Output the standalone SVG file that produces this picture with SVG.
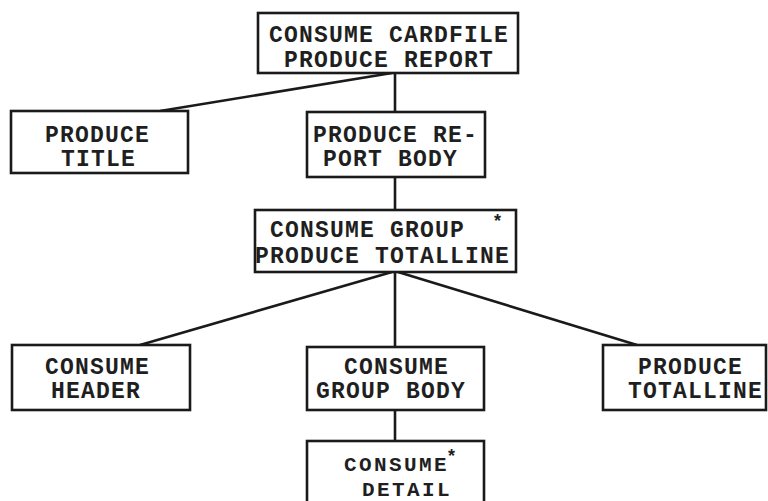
<svg xmlns="http://www.w3.org/2000/svg" width="768" height="501" viewBox="0 0 768 501">
<style>
.box{fill:#fff;stroke:#1a1a1a;stroke-width:2.6}
.lbl{font-family:"Liberation Mono","Courier New",monospace;font-size:23px;font-weight:bold;letter-spacing:1.2px;fill:#1f1f1f}
.sm{font-size:21px;letter-spacing:2.4px}
.star{font-family:"Liberation Sans",Arial,sans-serif;font-size:18px;font-weight:bold;fill:#1f1f1f}
.con{stroke:#1a1a1a;stroke-width:2.6;fill:none}
</style>
<rect width="768" height="501" fill="#fff"/>
<g id="connectors">
<line class="con" x1="392" y1="73" x2="160" y2="111"/>
<line class="con" x1="395" y1="73" x2="395" y2="112"/>
<line class="con" x1="395" y1="177" x2="395" y2="210"/>
<line class="con" x1="392" y1="272" x2="140" y2="345"/>
<line class="con" x1="395" y1="272" x2="395" y2="347"/>
<line class="con" x1="398" y1="272" x2="637" y2="345"/>
<line class="con" x1="395" y1="410" x2="395" y2="441"/>
</g>
<g id="n-top">
<rect class="box" x="258" y="13" width="260" height="60"/>
<text class="lbl" x="269" y="42">CONSUME CARDFILE</text>
<text class="lbl" x="284" y="67">PRODUCE REPORT</text>
</g>
<g id="n-title">
<rect class="box" x="11" y="111" width="177" height="62"/>
<text class="lbl" x="45" y="142">PRODUCE</text>
<text class="lbl" x="61" y="166">TITLE</text>
</g>
<g id="n-reportbody">
<rect class="box" x="307" y="112" width="178" height="65"/>
<text class="lbl" x="313" y="142">PRODUCE RE-</text>
<text class="lbl" x="323" y="166">PORT BODY</text>
</g>
<g id="n-group">
<rect class="box" x="255" y="210" width="261" height="62"/>
<text class="lbl" x="270" y="237">CONSUME GROUP</text>
<text class="lbl" x="255" y="263">PRODUCE TOTALLINE</text>
<text class="star" x="494" y="227">*</text>
</g>
<g id="n-header">
<rect class="box" x="12" y="345" width="178" height="65"/>
<text class="lbl" x="45" y="374">CONSUME</text>
<text class="lbl" x="51" y="398">HEADER</text>
</g>
<g id="n-groupbody">
<rect class="box" x="307" y="347" width="177" height="63"/>
<text class="lbl" x="344" y="374">CONSUME</text>
<text class="lbl" x="316" y="398">GROUP BODY</text>
</g>
<g id="n-totalline">
<rect class="box" x="603" y="345" width="163" height="65"/>
<text class="lbl" x="638" y="374">PRODUCE</text>
<text class="lbl" x="628" y="398">TOTALLINE</text>
</g>
<g id="n-detail">
<rect class="box" x="307" y="441" width="177" height="75"/>
<text class="lbl sm" x="344" y="471">CONSUME</text>
<text class="lbl sm" x="362" y="496">DETAIL</text>
<text class="star" x="448" y="462">*</text>
</g>
</svg>
